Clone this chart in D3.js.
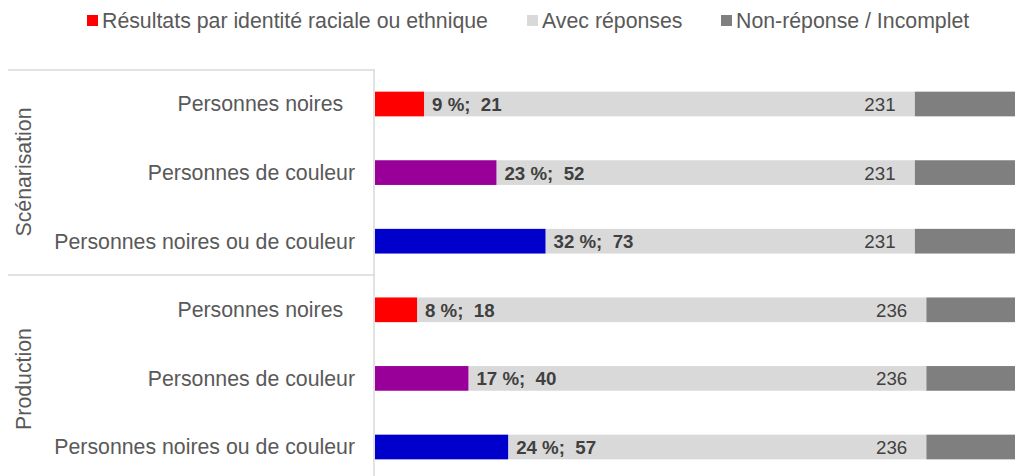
<!DOCTYPE html>
<html>
<head>
<meta charset="utf-8">
<script src="https://cdn.jsdelivr.net/npm/d3@7"></script>
<style>
  html, body { margin: 0; padding: 0; background: #fff; }
  svg text { font-family: "Liberation Sans", Arial, sans-serif; }
</style>
</head>
<body>
<svg id="chart" width="1015" height="476"></svg>
<script>
// Survey results by racial or ethnic identity, per sector
const groups = ["Scénarisation", "Production"];
const categories = ["Personnes noires  ", "Personnes de couleur", "Personnes noires ou de couleur"];
const rowGroup = ["Scénarisation", "Scénarisation", "Scénarisation", "Production", "Production", "Production"];
const rowCategory = [0, 1, 2, 0, 1, 2];
const resultCounts = [21, 52, 73, 18, 40, 57];
const resultPercents = [9, 23, 32, 8, 17, 24];
const respondents = [231, 231, 231, 236, 236, 236];
const nonResponse = [43, 43, 43, 38, 38, 38];
const legendLabels = ["Résultats par identité raciale ou ethnique", "Avec réponses", "Non-réponse / Incomplet"];
const categoryColors = ["#ff0000", "#990099", "#0000cc"];
const gridColor = "#d9d9d9";

const svg = d3.select("#chart");
const W = 1015, H = 476;
const plotLeft = 375, plotRight = 1015;
const frameTop = 70, frameMid = 275;

const rows = resultCounts.map((v, i) => ({
  i, group: rowGroup[i], cat: rowCategory[i], value: v, pct: resultPercents[i],
  resp: respondents[i], total: respondents[i] + nonResponse[i]
}));

const x = d3.scaleLinear().domain([0, 274]).range([plotLeft, plotRight]);
const y = d3.scaleBand().domain(d3.range(rows.length)).range([69.7, 481.3]).paddingInner(0.64).paddingOuter(0.32);

// Frame lines separating the two sectors
svg.append("line").attr("x1", 8).attr("x2", plotLeft).attr("y1", frameTop).attr("y2", frameTop)
  .attr("stroke", gridColor).attr("stroke-width", 1.5);
svg.append("line").attr("x1", 8).attr("x2", plotLeft).attr("y1", frameMid).attr("y2", frameMid)
  .attr("stroke", gridColor).attr("stroke-width", 1.5);
svg.append("line").attr("x1", plotLeft - 1).attr("x2", plotLeft - 1).attr("y1", frameTop).attr("y2", H)
  .attr("stroke", gridColor).attr("stroke-width", 1.5);

const bh = y.bandwidth();
const barG = svg.append("g");

// Non-response segment
barG.selectAll("rect.nr").data(rows).join("rect").attr("class", "nr")
  .attr("x", d => x(d.resp)).attr("width", d => x(d.total) - x(d.resp))
  .attr("y", d => y(d.i)).attr("height", bh).attr("fill", "#7f7f7f");

// Respondents segment
barG.selectAll("rect.resp").data(rows).join("rect").attr("class", "resp")
  .attr("x", d => x(d.value)).attr("width", d => x(d.resp) - x(d.value))
  .attr("y", d => y(d.i)).attr("height", bh).attr("fill", "#d9d9d9");

// Result segment
barG.selectAll("rect.res").data(rows).join("rect").attr("class", "res")
  .attr("x", x(0)).attr("width", d => x(d.value) - x(0))
  .attr("y", d => y(d.i)).attr("height", bh).attr("fill", d => categoryColors[d.cat]);

// Value labels
barG.selectAll("text.val").data(rows).join("text").attr("class", "val")
  .attr("x", d => x(d.value) + 8).attr("y", d => y(d.i) + bh / 2)
  .attr("dy", "0.37em").attr("font-size", 18.7).attr("font-weight", "bold")
  .attr("fill", "#404040").style("white-space", "pre")
  .text(d => `${d.pct} %;  ${d.value}`);

barG.selectAll("text.resplbl").data(rows).join("text").attr("class", "resplbl")
  .attr("x", d => x(d.resp) - 19).attr("y", d => y(d.i) + bh / 2)
  .attr("dy", "0.37em").attr("font-size", 18.7).attr("text-anchor", "end")
  .attr("fill", "#404040")
  .text(d => d.resp);

// Category labels
svg.append("g").selectAll("text").data(rows).join("text")
  .attr("x", 355).attr("y", d => y(d.i) + bh / 2).attr("dy", "0.35em")
  .attr("text-anchor", "end").attr("font-size", 21.3).attr("fill", "#595959")
  .style("white-space", "pre")
  .text(d => categories[d.cat]);

// Sector labels, rotated
const groupCenters = [172, 379];
groups.forEach((g, k) => {
  svg.append("text").attr("transform", `translate(31,${groupCenters[k]}) rotate(-90)`)
    .attr("text-anchor", "middle").attr("font-size", 21.3).attr("fill", "#595959")
    .text(g);
});

// Legend
const legendColors = ["#ff0000", "#d9d9d9", "#7f7f7f"];
const legendX = [87, 527, 721];
const lg = svg.append("g");
legendLabels.forEach((t, k) => {
  lg.append("rect").attr("x", legendX[k]).attr("y", 15).attr("width", 11).attr("height", 11)
    .attr("fill", legendColors[k]);
  lg.append("text").attr("x", legendX[k] + 15).attr("y", 20.5).attr("dy", "0.35em")
    .attr("font-size", 21.3).attr("fill", "#595959").text(t);
});
</script>
</body>
</html>
